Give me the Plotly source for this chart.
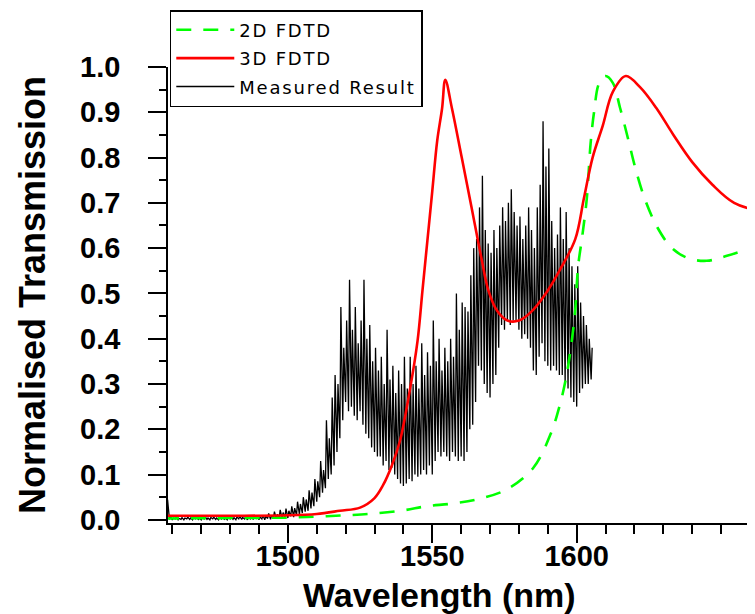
import plotly.graph_objects as go

# 2D FDTD simulation (green dashed)
wl_2d = [1457, 1480, 1500, 1510, 1520, 1530, 1540, 1548, 1557, 1566, 1576, 1585,
         1591, 1594, 1596.5, 1599.3, 1600.5, 1602, 1603.5, 1604.8, 1606, 1607.8,
         1610, 1612.5, 1615, 1618, 1620, 1623.5, 1628, 1633, 1638.5,
         1645, 1652, 1664.5]
t_2d = [0.003, 0.004, 0.005, 0.007, 0.010, 0.014, 0.021, 0.030, 0.036, 0.046, 0.068, 0.115,
        0.19, 0.25, 0.32, 0.45, 0.56, 0.63, 0.71, 0.83, 0.90, 0.965,
        0.98, 0.965, 0.91, 0.836, 0.784, 0.71, 0.645, 0.60, 0.578,
        0.572, 0.583, 0.61]

# 3D FDTD simulation (red)
wl_3d = [1457, 1480, 1500, 1510, 1518, 1525, 1530, 1533, 1536, 1538.8, 1542.2, 1544.9,
         1546.6, 1548.3, 1550, 1551.7, 1553.4, 1554.5, 1556.8, 1560.2, 1563.6, 1567,
         1569.5, 1572.5, 1576, 1580, 1584.5, 1589, 1594, 1599.5, 1602.5, 1605.5,
         1609, 1612.5, 1617, 1622, 1627.5, 1633.5, 1640, 1647, 1654.5, 1664.5]
t_3d = [0.009, 0.009, 0.010, 0.013, 0.020, 0.027, 0.048, 0.077, 0.12, 0.174, 0.285, 0.395,
        0.506, 0.616, 0.726, 0.837, 0.909, 0.972, 0.909, 0.80, 0.69, 0.578,
        0.505, 0.461, 0.44, 0.44, 0.461, 0.497, 0.55, 0.62, 0.71, 0.80,
        0.87, 0.945, 0.98, 0.955, 0.91, 0.85, 0.79, 0.74, 0.70, 0.68]

# measured spectrum, read as low / high of the noise at every nm
wl_meas = list(range(1457, 1606))
meas_lo = [0.000, 0.000, 0.001, 0.000, 0.002, 0.000, 0.001, 0.000, 0.002, 0.001,
           0.000, 0.002, 0.001, 0.000, 0.002, 0.001, 0.000, 0.002, 0.001, 0.000,
           0.002, 0.001, 0.000, 0.002, 0.001, 0.000, 0.002, 0.001, 0.002, 0.000,
           0.002, 0.001, 0.003, 0.000, 0.002, 0.000, 0.003, 0.001, 0.004, 0.002,
           0.005, 0.003, 0.006, 0.004, 0.008, 0.006, 0.010, 0.012, 0.015, 0.018,
           0.020, 0.025, 0.030, 0.040, 0.050, 0.060, 0.070, 0.090, 0.100, 0.120,
           0.150, 0.180, 0.220, 0.260, 0.240, 0.250, 0.230, 0.220, 0.240, 0.210,
           0.190, 0.180, 0.160, 0.150, 0.140, 0.140, 0.120, 0.130, 0.110, 0.115,
           0.100, 0.090, 0.080, 0.075, 0.080, 0.090, 0.085, 0.100, 0.095, 0.100,
           0.110, 0.100, 0.120, 0.100, 0.130, 0.150, 0.140, 0.150, 0.140, 0.130,
           0.150, 0.140, 0.130, 0.140, 0.130, 0.150, 0.200, 0.210, 0.260, 0.340,
           0.330, 0.300, 0.280, 0.270, 0.300, 0.320, 0.380, 0.430, 0.420, 0.440,
           0.430, 0.440, 0.440, 0.420, 0.400, 0.410, 0.400, 0.380, 0.330, 0.320,
           0.360, 0.390, 0.350, 0.340, 0.330, 0.340, 0.330, 0.320, 0.320, 0.300,
           0.290, 0.270, 0.260, 0.250, 0.280, 0.290, 0.300, 0.300, 0.310]
meas_hi = [0.070, 0.045, 0.008, 0.004, 0.006, 0.003, 0.005, 0.004, 0.006, 0.004,
           0.005, 0.006, 0.004, 0.005, 0.007, 0.004, 0.005, 0.006, 0.004, 0.006,
           0.005, 0.004, 0.006, 0.007, 0.005, 0.006, 0.008, 0.005, 0.007, 0.006,
           0.008, 0.006, 0.009, 0.006, 0.010, 0.008, 0.014, 0.010, 0.018, 0.012,
           0.022, 0.016, 0.025, 0.020, 0.030, 0.026, 0.040, 0.035, 0.050, 0.045,
           0.065, 0.060, 0.090, 0.085, 0.130, 0.110, 0.220, 0.180, 0.270, 0.320,
           0.300, 0.470, 0.380, 0.440, 0.530, 0.420, 0.470, 0.390, 0.440, 0.530,
           0.400, 0.430, 0.350, 0.380, 0.330, 0.360, 0.300, 0.420, 0.310, 0.340,
           0.280, 0.330, 0.300, 0.360, 0.290, 0.360, 0.300, 0.340, 0.290, 0.390,
           0.320, 0.370, 0.340, 0.440, 0.350, 0.400, 0.330, 0.380, 0.350, 0.400,
           0.360, 0.500, 0.420, 0.480, 0.470, 0.460, 0.540, 0.600, 0.620, 0.690,
           0.760, 0.640, 0.610, 0.590, 0.640, 0.600, 0.650, 0.690, 0.660, 0.700,
           0.730, 0.680, 0.650, 0.670, 0.620, 0.650, 0.690, 0.640, 0.600, 0.690,
           0.740, 0.880, 0.780, 0.820, 0.660, 0.600, 0.630, 0.690, 0.620, 0.680,
           0.600, 0.560, 0.520, 0.560, 0.480, 0.450, 0.430, 0.400, 0.380]

x_tick_labels = [1500, 1550, 1600]
y_tick_labels = [0.0, 0.1, 0.2, 0.3, 0.4, 0.5, 0.6, 0.7, 0.8, 0.9, 1.0]

# each nm: a stroke from the low to the high reading, then on to the next low
x_meas, y_meas = [], []
for w, lo, hi in zip(wl_meas, meas_lo, meas_hi):
    x_meas += [w, w + 0.35]
    y_meas += [lo, hi]

# the original legend uses a widely spaced bitmap font
spaced = '<span style="letter-spacing:1.8px">{}</span>'

fig = go.Figure()
fig.add_trace(go.Scatter(x=x_meas, y=y_meas, mode="lines", name=spaced.format("Measured Result"),
                         line=dict(color="black", width=1.3), legendrank=3, legendgroup="c"))
fig.add_trace(go.Scatter(x=wl_2d, y=t_2d, mode="lines", name=spaced.format("2D FDTD"),
                         line_shape="spline",
                         line=dict(color="#00ff00", width=2.6, dash="15px,12px"),
                         legendrank=1, legendgroup="a"))
fig.add_trace(go.Scatter(x=wl_3d, y=t_3d, mode="lines", name=spaced.format("3D FDTD"),
                         line_shape="spline",
                         line=dict(color="#ff0000", width=2.6), legendrank=2, legendgroup="b"))

axis_font = dict(family="Liberation Sans", size=29, color="black", weight="bold")

fig.update_layout(
    width=755, height=614,
    margin=dict(l=160, r=0, t=59, b=99),
    plot_bgcolor="white", paper_bgcolor="white",
    legend=dict(x=0.003, y=1.125, xanchor="left", yanchor="top",
                bordercolor="black", borderwidth=1.5, bgcolor="white",
                font=dict(family="DejaVu Sans", size=18, color="black"),
                tracegroupgap=2, itemwidth=58),
    annotations=[dict(text="Wavelength (nm)", xref="paper", yref="paper",
                      x=0.457, y=-0.158, xanchor="center", yanchor="middle", showarrow=False,
                      font=dict(family="Liberation Sans", size=34, color="black", weight="bold"))],
)
fig.update_xaxes(
    range=[1458.5, 1664.5], tickmode="array", tickvals=x_tick_labels,
    ticks="outside", ticklen=18, tickwidth=1.5, tickcolor="black", ticklabelstandoff=-12,
    minor=dict(tickmode="array", tickvals=list(range(1460, 1665, 10)),
               ticks="outside", ticklen=9, tickwidth=1.5, tickcolor="black"),
    showline=True, linecolor="black", linewidth=1.5,
    showgrid=False, zeroline=False, tickfont=axis_font,
)
fig.update_yaxes(
    range=[-0.007, 1.0], tickmode="array", tickvals=y_tick_labels, tickformat=".1f",
    ticks="outside", ticklen=18, tickwidth=1.5, tickcolor="black", ticklabelstandoff=22,
    minor=dict(tickmode="array", tickvals=[0.05, 0.15, 0.25, 0.35, 0.45, 0.55, 0.65, 0.75, 0.85, 0.95],
               ticks="outside", ticklen=7, tickwidth=1.5, tickcolor="black"),
    showline=True, linecolor="black", linewidth=1.5,
    showgrid=False, zeroline=False, tickfont=axis_font,
    title=dict(text="Normalised Transmission", standoff=24,
               font=dict(family="Liberation Sans", size=36, color="black", weight="bold")),
)

fig.write_html("out.html")
